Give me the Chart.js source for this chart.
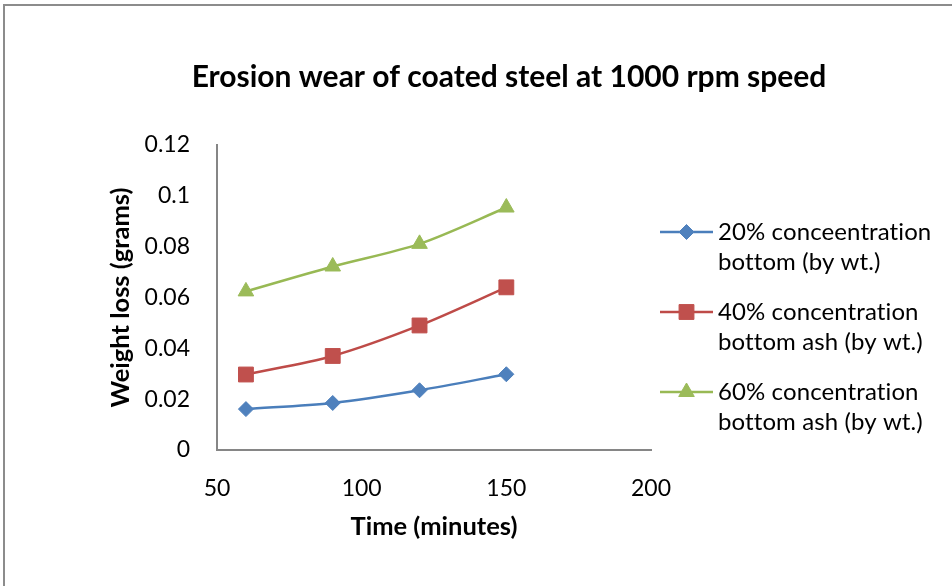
<!DOCTYPE html>
<html>
<head>
<meta charset="utf-8">
<title>Erosion wear of coated steel at 1000 rpm speed</title>
<script src="https://cdn.jsdelivr.net/npm/chart.js@4.4.1/dist/chart.umd.min.js"></script>
<style>
  html, body { margin: 0; padding: 0; background: #ffffff; }
  #wrap { position: relative; width: 952px; height: 586px; overflow: hidden; }
  canvas { display: block; }
</style>
</head>
<body>
<div id="wrap"><canvas id="chart" width="952" height="586"></canvas></div>
<script>
// Sampling times (minutes)
const timeMinutes = [60, 90, 120, 150];

// Weight loss (grams) for each bottom-ash concentration
const loss20 = [0.0161, 0.0185, 0.0235, 0.0298];
const loss40 = [0.0297, 0.0370, 0.0490, 0.0640];
const loss60 = [0.0624, 0.0722, 0.0811, 0.0954];

// Series names, split into the two lines shown in the legend
const name20 = ['20% conceentration', 'bottom (by wt.)'];
const name40 = ['40% concentration', 'bottom ash (by wt.)'];
const name60 = ['60% concentration', 'bottom ash (by wt.)'];

// Axis tick labels
const xTickLabels = ['50', '100', '150', '200'];
const yTickLabels = ['0', '0.02', '0.04', '0.06', '0.08', '0.1', '0.12'];

const chartTitle = 'Erosion wear of coated steel at 1000 rpm speed';

const FONT = 'Lato, "Open Sans", "DejaVu Sans", sans-serif';
const AXIS_GRAY = '#868686';

// Frame around the whole chart (top and left edges visible) and the title
const framePlugin = {
  id: 'frame',
  beforeDraw(chart) {
    const ctx = chart.ctx;
    ctx.save();
    ctx.fillStyle = '#ffffff';
    ctx.fillRect(0, 0, chart.width, chart.height);
    ctx.strokeStyle = '#8c8c8c';
    ctx.lineWidth = 2;
    ctx.beginPath();
    ctx.moveTo(4, chart.height + 2);
    ctx.lineTo(4, 5);
    ctx.lineTo(chart.width + 2, 5);
    ctx.stroke();
    ctx.fillStyle = '#000000';
    ctx.font = 'bold 30px ' + FONT;
    ctx.textAlign = 'center';
    ctx.textBaseline = 'middle';
    ctx.fillText(chartTitle, 509, 77);
    ctx.restore();
  }
};

// Legend on the right, with two-line entries
const sideLegendPlugin = {
  id: 'sideLegend',
  afterDraw(chart) {
    const ctx = chart.ctx;
    const area = chart.chartArea;
    const x0 = area.right + 9;
    const lineLen = 53;
    const textX = x0 + lineLen + 5;
    const firstY = 232;
    const entryGap = 80;
    const lineGap = 30;
    ctx.save();
    chart.data.datasets.forEach((ds, i) => {
      const y = firstY + i * entryGap;
      ctx.strokeStyle = ds.borderColor;
      ctx.lineWidth = ds.borderWidth;
      ctx.beginPath();
      ctx.moveTo(x0, y);
      ctx.lineTo(x0 + lineLen, y);
      ctx.stroke();
      ctx.fillStyle = ds.pointBackgroundColor;
      ctx.strokeStyle = ds.pointBorderColor;
      ctx.lineWidth = 1;
      Chart.helpers.drawPoint(ctx, {
        pointStyle: ds.pointStyle,
        radius: ds.pointRadius,
        rotation: 0,
        borderWidth: 1
      }, x0 + lineLen / 2, y);
      ctx.fillStyle = '#000000';
      ctx.font = '24px ' + FONT;
      // a tiny letter spacing keeps "ti" from being joined into a ligature
      if ('letterSpacing' in ctx) ctx.letterSpacing = '0.1px';
      ctx.textBaseline = 'middle';
      ctx.textAlign = 'left';
      ds.legendLines.forEach((t, k) => ctx.fillText(t, textX, y + k * lineGap));
    });
    ctx.restore();
  }
};

function series(lines, values, lineColor, markerColor, style, radius) {
  return {
    label: lines.join(' '),
    legendLines: lines,
    data: timeMinutes.map((t, i) => ({ x: t, y: values[i] })),
    borderColor: lineColor,
    borderWidth: 2.5,
    backgroundColor: markerColor,
    pointBackgroundColor: markerColor,
    pointBorderColor: markerColor,
    pointBorderWidth: 1,
    pointStyle: style,
    pointRadius: radius,
    pointHoverRadius: radius,
    tension: 0.3,
    fill: false
  };
}

new Chart(document.getElementById('chart'), {
  type: 'line',
  data: {
    datasets: [
      series(name20, loss20, '#4A7EBB', '#4F81BD', 'rectRot', 7.5),
      series(name40, loss40, '#BE4B48', '#C0504D', 'rect', 10.5),
      series(name60, loss60, '#98B954', '#9BBB59', 'triangle', 9)
    ]
  },
  options: {
    responsive: false,
    animation: false,
    devicePixelRatio: 1,
    layout: { padding: { top: 145, left: 100, right: 301, bottom: 40 } },
    plugins: {
      legend: { display: false },
      tooltip: { enabled: false },
      title: { display: false }
    },
    scales: {
      x: {
        type: 'linear',
        min: 50,
        max: 200,
        grid: { display: false, drawTicks: false },
        border: { display: true, color: AXIS_GRAY, width: 2 },
        ticks: {
          stepSize: 50,
          padding: 25,
          color: '#000000',
          font: { family: FONT, size: 23 },
          maxRotation: 0,
          callback: (v, i) => xTickLabels[i]
        },
        title: {
          display: true,
          text: 'Time (minutes)',
          color: '#000000',
          font: { family: FONT, size: 25.5, weight: 'bold' },
          padding: { top: 8 }
        },
        afterFit(scale) { scale.height = 96; }
      },
      y: {
        min: 0,
        max: 0.12,
        grid: { display: false, drawTicks: false },
        border: { display: true, color: AXIS_GRAY, width: 2 },
        ticks: {
          stepSize: 0.02,
          padding: 27,
          color: '#000000',
          font: { family: FONT, size: 23 },
          callback: (v, i) => yTickLabels[i]
        },
        title: {
          display: true,
          text: 'Weight loss (grams)',
          color: '#000000',
          font: { family: FONT, size: 25.5, weight: 'bold' },
          padding: { top: 5, bottom: 0 }
        },
        afterFit(scale) { scale.width = 117; }
      }
    }
  },
  plugins: [framePlugin, sideLegendPlugin]
});
</script>
</body>
</html>
